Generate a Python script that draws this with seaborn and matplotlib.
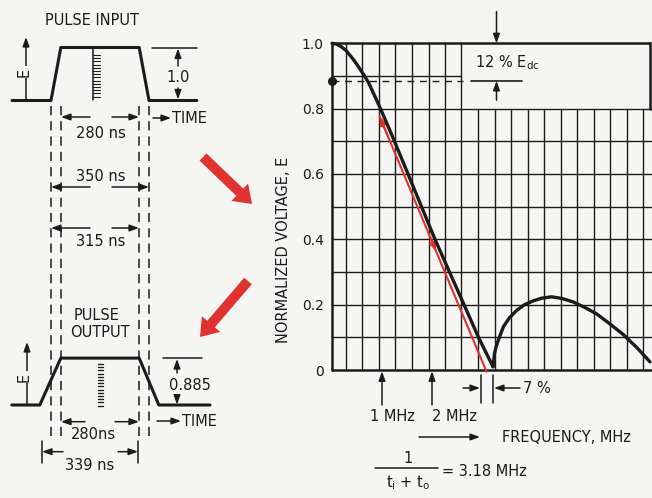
import matplotlib
matplotlib.use("Agg")
import matplotlib.pyplot as plt
import seaborn as sns
from matplotlib.patches import FancyArrow

# spectrum (frequency in MHz, normalized voltage E)
main_f = [0.0, 0.1, 0.19, 0.28, 0.35, 0.44, 0.53, 0.65, 0.73, 0.85, 0.97, 1.25, 1.52, 1.79, 2.06, 2.35, 2.64, 2.93, 3.22]
main_v = [1.0, 0.997, 0.989, 0.978, 0.965, 0.948, 0.928, 0.90, 0.88, 0.84, 0.80, 0.70, 0.60, 0.50, 0.40, 0.30, 0.20, 0.10, 0.01]
side_f = [3.22, 3.25, 3.28, 3.33, 3.43, 3.55, 3.69, 3.85, 4.03, 4.2, 4.39, 4.6, 4.83, 5.05, 5.29, 5.55, 5.83, 6.1, 6.36]
side_v = [0.01, 0.05, 0.07, 0.093, 0.133, 0.16, 0.182, 0.2, 0.212, 0.22, 0.224, 0.219, 0.208, 0.192, 0.172, 0.142, 0.108, 0.068, 0.025]

# red straight-line approximation
approx_f = [0.95, 3.09]
approx_v = [0.777, -0.005]

edc_level = 0.885
mhz_marks = [1, 2]
mhz_labels = ["1 MHz", "2 MHz"]
y_ticks = [0, 0.2, 0.4, 0.6, 0.8, 1.0]
y_tick_labels = ["0", "0.2", "0.4", "0.6", "0.8", "1.0"]

# pulses (time in ns, normalized E)
in_t = [-139, 0, 35, 315, 350, 521]
in_e = [0, 0, 1.0, 1.0, 0, 0]
out_t = [-140, -40, 35, 315, 385, 568]
out_e = [0, 0, 0.885, 0.885, 0, 0]

sns.set_theme(style="white")
plt.rcParams["font.family"] = ["DejaVu Sans"]

BG = "#f5f5f3"
INK = "#1b1b1b"
RED = "#e0322e"


def arr(a, x0, y0, x1, y1, color=INK, lw=1.1, ms=10):
    a.annotate("", xy=(x1, y1), xytext=(x0, y0), annotation_clip=False,
               arrowprops=dict(arrowstyle="-|>,head_length=0.55,head_width=0.2", color=color,
                               lw=lw, shrinkA=0, shrinkB=0, mutation_scale=ms))


fig = plt.figure(figsize=(6.52, 4.98), dpi=100, facecolor=BG)

# ---- right: spectrum ----
ax = fig.add_axes([332 / 652, 128 / 498, 320 / 652, 326.7 / 498])
ax.set_facecolor(BG)
ax.set_xlim(0, 6.4)
ax.set_ylim(0, 1.0)
for s in ax.spines.values():
    s.set_visible(False)

grid_f = [0.28 + 0.33 * k for k in range(19)]
grid_v = [0.1, 0.2, 0.3, 0.4, 0.5, 0.6, 0.7, 0.8, 0.9]
box_left = grid_f[7]
box_right = 6.36
grid_kw = dict(color=INK, lw=1.0, clip_on=False, zorder=1)
for g in grid_f:
    ax.plot([g, g], [0, 1.0 if g <= box_left + 1e-6 else 0.8], **grid_kw)
for v in grid_v:
    ax.plot([0, 6.4 if v <= 0.8 + 1e-6 else box_left], [v, v], **grid_kw)
frame_kw = dict(color=INK, lw=1.8, clip_on=False, zorder=2)
ax.plot([0, 0], [0, 1.0], **frame_kw)
ax.plot([0, 6.4], [0, 0], **frame_kw)
ax.plot([0, box_right], [1.0, 1.0], **frame_kw)
ax.plot([box_right, box_right], [0.8, 1.0], **frame_kw)

sns.lineplot(x=approx_f, y=approx_v, ax=ax, color=RED, lw=1.5, zorder=3)
sns.lineplot(x=main_f, y=main_v, ax=ax, color=INK, lw=2.4, zorder=4)
sns.lineplot(x=side_f, y=side_v, ax=ax, color=INK, lw=2.4, zorder=4)
for ln in ax.lines:
    ln.set_clip_on(False)
    ln.set_solid_joinstyle("round")


def along(s):
    return (approx_f[0] + s * (approx_f[1] - approx_f[0]),
            approx_v[0] + s * (approx_v[1] - approx_v[0]))


for s0, s1 in [(0.08, 0.0), (0.47, 0.53)]:
    p0, p1 = along(s0), along(s1)
    arr(ax, p0[0], p0[1], p1[0], p1[1], color=RED, lw=1.5, ms=9)

ax.set_xticks([])
ax.set_yticks(y_ticks)
ax.set_yticklabels(y_tick_labels, fontsize=10, color=INK)
ax.tick_params(axis="y", length=0, pad=6)
ax.set_xlabel("")
ax.set_ylabel("")

# 12 % Edc marker
ax.plot([0], [edc_level], "o", color=INK, ms=5.5, clip_on=False, zorder=5)
ax.plot([0, box_left + 0.03], [edc_level, edc_level], color=INK, lw=1.0, dashes=(5, 4), zorder=3)
ax.plot([2.78, 3.79], [edc_level, edc_level], color=INK, lw=1.2)
arr(ax, 3.29, 1.097, 3.29, 1.0)
arr(ax, 3.29, 0.826, 3.29, edc_level)
ax.text(2.86, 0.94, r"12 % E$_{\mathrm{dc}}$", fontsize=10.5, va="center", color=INK)

for m in mhz_marks:
    arr(ax, m, -0.107, m, -0.004)

# ---- left: pulses ----
axl = fig.add_axes([0, 0, 260 / 652, 1])
axl.set_xlim((0 - 51) / 0.28, (260 - 51) / 0.28)
axl.set_ylim((100.5 - 498) / 53, 100.5 / 53)
axl.axis("off")
out_offset = -(405 - 100.5) / 53
sns.lineplot(x=in_t, y=in_e, ax=axl, color=INK, lw=2.2)
sns.lineplot(x=out_t, y=[e + out_offset for e in out_e], ax=axl, color=INK, lw=2.2)
for t in in_t[1:5]:
    axl.plot([t, t], [-0.1, -6.4], color=INK, lw=1.1, dashes=(6, 4))

# ---- overlay in pixel coordinates for annotations ----
ov = fig.add_axes([0, 0, 1, 1], zorder=10)
ov.patch.set_alpha(0)
ov.set_xlim(0, 652)
ov.set_ylim(498, 0)
ov.axis("off")
tk = dict(color=INK, fontsize=10.5, ha="center", va="center")
bgbox = dict(facecolor=BG, edgecolor="none", pad=1)

for m, lab, x in zip(mhz_marks, mhz_labels, [392, 454]):
    ov.text(x, 416, lab, **tk)

ov.text(284, 250, "NORMALIZED VOLTAGE, E", rotation=90, **tk)
arr(ov, 419, 437, 480, 437)
ov.text(502, 437, "FREQUENCY, MHz", **{**tk, "ha": "left"})
ov.text(408, 458, "1", **tk)
ov.plot([375, 438], [468, 468], color=INK, lw=1.1)
ov.text(408, 483, r"t$_{\rm i}$ + t$_{\rm o}$", **tk)
ov.text(442, 471, "= 3.18 MHz", **{**tk, "ha": "left"})

# 7 % gap
for x in [480.7, 493.3]:
    ov.plot([x, x], [375, 403], color=INK, lw=1.1)
arr(ov, 463, 388, 480, 388)
arr(ov, 520, 388, 494, 388)
ov.text(523, 388, "7 %", **{**tk, "ha": "left"})

# red block arrows
ov.add_patch(FancyArrow(203, 157, 49, 47, width=10, head_width=24, head_length=17,
                        length_includes_head=True, color=RED, lw=0))
ov.add_patch(FancyArrow(248, 281, -48, 56, width=10, head_width=24, head_length=17,
                        length_includes_head=True, color=RED, lw=0))

# input pulse annotations
ov.text(92, 20, "PULSE INPUT", **tk)
arr(ov, 26, 100, 26, 37)
ov.text(24, 72, "E", rotation=90, bbox=bgbox, **tk)
ov.plot([152, 197], [47.7, 47.7], color=INK, lw=1.1)
arr(ov, 178, 66, 178, 48.5)
arr(ov, 178, 88, 178, 99.5)
ov.text(178, 77, "1.0", **tk)
arr(ov, 153, 118, 171, 118)
ov.text(172, 118, "TIME", **{**tk, "ha": "left"})
ov.plot([93.3, 93.3], [49, 100], color=INK, lw=1.1)
for i in range(14):
    ov.plot([93.3, 99.7], [55 + i * 3.2] * 2, color=INK, lw=0.8)

for y, xl, xr, lab, ty in [(117, 61, 139, "280 ns", 133), (187, 51, 149, "350 ns", 176),
                            (228, 51, 139, "315 ns", 241)]:
    arr(ov, 90, y, xl, y)
    arr(ov, 112, y, xr, y)
    ov.text(101, ty, lab, **tk)

# output pulse annotations
ov.text(97, 315, "PULSE", **tk)
ov.text(100, 332, "OUTPUT", **tk)
arr(ov, 27, 405, 27, 342)
ov.text(24, 377, "E", rotation=90, bbox=bgbox, **tk)
ov.plot([163, 202], [358.3, 358.3], color=INK, lw=1.1)
arr(ov, 177, 373, 177, 359)
arr(ov, 177, 393, 177, 404.5)
ov.text(190, 385, "0.885", bbox=bgbox, **tk)
arr(ov, 157, 421, 181, 421)
ov.text(182, 421, "TIME", **{**tk, "ha": "left"})
for i in range(14):
    ov.plot([97.5, 103], [364 + i * 3.2] * 2, color=INK, lw=1.0)
arr(ov, 85, 421.7, 61, 421.7)
arr(ov, 115, 421.7, 139, 421.7)
ov.text(93, 434, "280ns", **tk)
for x in [41.7, 138.3]:
    ov.plot([x, x], [441, 463], color=INK, lw=1.1)
arr(ov, 63, 451.7, 42, 451.7)
arr(ov, 118, 451.7, 138, 451.7)
ov.text(90, 465, "339 ns", **tk)

fig.savefig("out.png", dpi=100, facecolor=BG)
